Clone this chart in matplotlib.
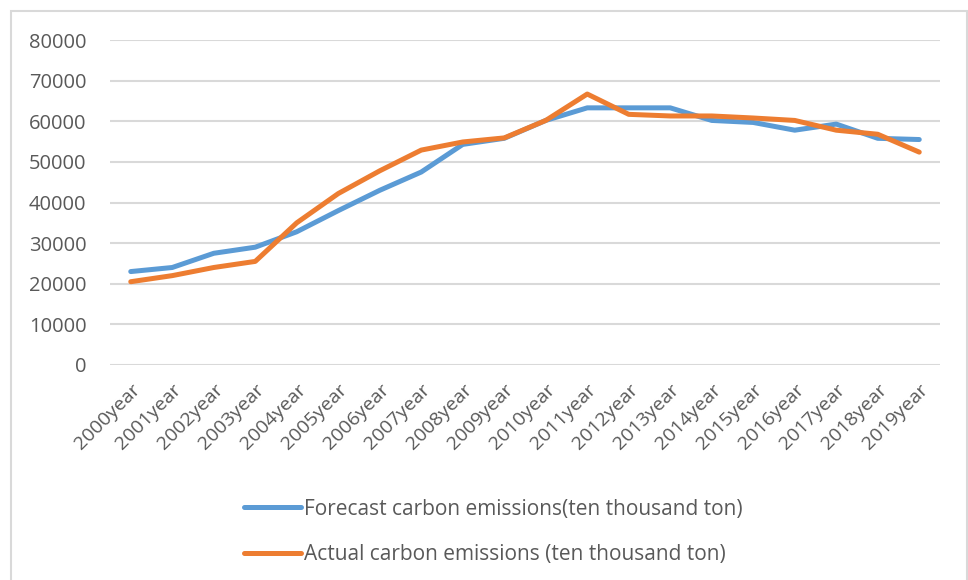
import matplotlib.pyplot as plt
from matplotlib.patches import Rectangle

plt.rcParams['font.family'] = ['Open Sans', 'DejaVu Sans']

# 年份与碳排放数据（万吨）
years = [f'{y}year' for y in range(2000, 2020)]
forecast = [23000, 24000, 27500, 29000, 32800, 38000, 43000, 47500, 54300, 55800,
            60200, 63300, 63300, 63300, 60200, 59700, 57800, 59300, 55800, 55500]
actual = [20500, 22000, 24000, 25500, 35000, 42200, 47800, 52900, 54900, 55900,
          60200, 66700, 61700, 61300, 61300, 60800, 60200, 57800, 56800, 52400]
yticks = list(range(0, 80001, 10000))

blue = '#5B9BD5'
orange = '#ED7D31'
grey = '#595959'
grid_c = '#D9D9D9'

fig = plt.figure(figsize=(9.68, 5.8), dpi=100)
W, H = 968, 580

# 外边框
fig.patches.append(Rectangle((11 / W, -0.1), (967 - 11) / W, (H - 11) / H + 0.1,
                             transform=fig.transFigure, fill=False,
                             edgecolor=grid_c, linewidth=1.5))

ax = fig.add_axes([110 / W, 1 - 365 / H, 830 / W, 325 / H])
x = range(len(years))
l1, = ax.plot(x, forecast, color=blue, lw=3.6, solid_capstyle='round',
              solid_joinstyle='round')
l2, = ax.plot(x, actual, color=orange, lw=3.6, solid_capstyle='round',
              solid_joinstyle='round')

ax.set_xlim(-0.5, len(years) - 0.5)
ax.set_ylim(0, 80000)
ax.set_yticks(yticks)
ax.set_yticklabels([str(v) for v in yticks])
ax.set_xticks(list(x))
ax.set_xticklabels(years, rotation=45, ha='right', rotation_mode='anchor')
ax.tick_params(axis='y', length=0, pad=17, labelsize=14.5, labelcolor=grey)
ax.tick_params(axis='x', length=0, pad=11, labelsize=14, labelcolor=grey)
ax.grid(axis='y', color=grid_c, lw=1.5)
ax.set_axisbelow(True)
for s in ax.spines.values():
    s.set_visible(False)

leg = fig.legend([l1, l2],
                 ['Forecast carbon emissions(ten thousand ton)',
                  'Actual carbon emissions (ten thousand ton)'],
                 loc='upper left', bbox_to_anchor=(225 / W, 1 - 480 / H),
                 frameon=False, fontsize=15, handlelength=2.75,
                 handletextpad=0.15, labelspacing=1.16, labelcolor=grey)

fig.savefig('out.png', dpi=100)
